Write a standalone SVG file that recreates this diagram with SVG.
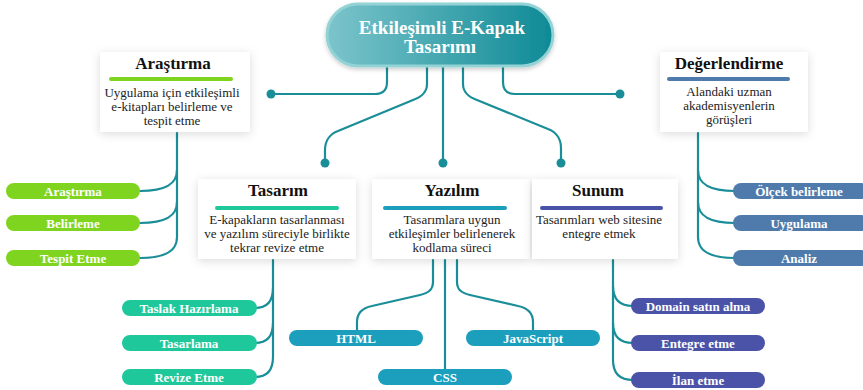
<svg xmlns="http://www.w3.org/2000/svg" width="863" height="390" viewBox="0 0 863 390">
<defs>
<linearGradient id="cg" x1="0" y1="0" x2="1" y2="0">
<stop offset="0" stop-color="#7cc4cb"/>
<stop offset="1" stop-color="#0e8a96"/>
</linearGradient>
<filter id="sh" x="-20%" y="-30%" width="140%" height="160%">
<feDropShadow dx="0" dy="2" stdDeviation="5" flood-color="#000" flood-opacity="0.14"/>
</filter>
<filter id="sh2" x="-10%" y="-20%" width="120%" height="150%">
<feDropShadow dx="0" dy="2" stdDeviation="2" flood-color="#000" flood-opacity="0.2"/>
</filter>
</defs>
<style>
.card{fill:#ffffff;filter:url(#sh)}
.title{font-family:"Liberation Serif","Times New Roman",serif;font-weight:bold;font-size:17px;fill:#111;text-anchor:middle}
.body{font-family:"Liberation Serif","Times New Roman",serif;font-size:13px;fill:#222;text-anchor:middle}
.pt{font-family:"Liberation Serif","Times New Roman",serif;font-weight:bold;font-size:13px;fill:#ffffff;text-anchor:middle}
.con{fill:none;stroke:#1a8e98;stroke-width:2.2;stroke-linecap:round}
.dot{fill:#1a8e98}
.g{fill:#7fd41f}
.tg{fill:#1fc89b}
.cy{fill:#1b9fbd}
.in{fill:#4a53a7}
.sb{fill:#4f7bac}
</style>

<g id="connectors">
<path class="con" d="M387,66 V82 Q387,94 375,94 H271"/>
<path class="con" d="M427,66 V84 C427,93 421,97 413,100 L338,131 C330,134 325,141 325,150 V163"/>
<path class="con" d="M443,66 V163"/>
<path class="con" d="M463,66 V84 C463,93 469,97 477,100 L548,129 C556,132 561,139 561,148 V163"/>
<path class="con" d="M503,66 V82 Q503,94 515,94 H620"/>
<circle class="dot" cx="271" cy="94" r="4.5"/>
<circle class="dot" cx="325" cy="163" r="4.5"/>
<circle class="dot" cx="443" cy="163" r="4.5"/>
<circle class="dot" cx="561" cy="163" r="4.5"/>
<circle class="dot" cx="620" cy="94" r="4.5"/>

<path class="con" d="M177,133 V237 C177,251 166,258 140,258"/>
<path class="con" d="M177,170 C177,184 166,191 140,191"/>
<path class="con" d="M177,202 C177,216 166,223 140,223"/>

<path class="con" d="M698,133 V237 C698,251 709,258 735,258"/>
<path class="con" d="M698,170 C698,184 709,191 735,191"/>
<path class="con" d="M698,202 C698,216 709,223 735,223"/>

<path class="con" d="M273,260 V357 C273,371 266,377 255,377"/>
<path class="con" d="M273,288 C273,302 266,308 255,308"/>
<path class="con" d="M273,323 C273,337 266,343 255,343"/>

<path class="con" d="M613,260 V360 C613,374 620,380 633,380"/>
<path class="con" d="M613,286 C613,300 620,306 633,306"/>
<path class="con" d="M613,323 C613,337 620,343 633,343"/>

<path class="con" d="M433,260 V282 C433,290 428,293 420,295 L372,306 C362,308 357,314 357,322 V330"/>
<path class="con" d="M445,260 V369"/>
<path class="con" d="M457,260 V282 C457,290 462,293 470,295 L518,306 C528,308 533,314 533,322 V330"/>
</g>

<g id="center">
<rect x="327" y="4" width="226" height="62" rx="31" fill="url(#cg)" stroke="#93d3d6" stroke-width="3" filter="url(#sh2)"/>
<text x="442" y="34" font-family="Liberation Serif, Times New Roman, serif" font-weight="bold" font-size="19" fill="#fff" text-anchor="middle">Etkileşimli E-Kapak</text>
<text x="440" y="53" font-family="Liberation Serif, Times New Roman, serif" font-weight="bold" font-size="19" fill="#fff" text-anchor="middle">Tasarımı</text>
</g>

<g id="arastirma">
<rect class="card" x="100" y="52" width="150" height="80"/>
<text class="title" x="173" y="69">Araştırma</text>
<rect class="g" x="109" y="77" width="124" height="4" rx="2"/>
<text class="body" x="172" y="97">Uygulama için etkileşimli</text>
<text class="body" x="172" y="111">e-kitapları belirleme ve</text>
<text class="body" x="172" y="125">tespit etme</text>
</g>

<g id="degerlendirme">
<rect class="card" x="660" y="52" width="148" height="80"/>
<text class="title" x="729" y="69">Değerlendirme</text>
<rect class="sb" x="667" y="77" width="123" height="4" rx="2"/>
<text class="body" x="729" y="96">Alandaki uzman</text>
<text class="body" x="729" y="110">akademisyenlerin</text>
<text class="body" x="729" y="124">görüşleri</text>
</g>

<g id="tasarim">
<rect class="card" x="198" y="179" width="158" height="80"/>
<text class="title" x="278" y="196">Tasarım</text>
<rect class="tg" x="215" y="206" width="124" height="4" rx="2"/>
<text class="body" x="277" y="224">E-kapakların tasarlanması</text>
<text class="body" x="277" y="238">ve yazılım süreciyle birlikte</text>
<text class="body" x="277" y="252">tekrar revize etme</text>
</g>

<g id="yazilim">
<rect class="card" x="372" y="179" width="158" height="80"/>
<text class="title" x="452" y="196">Yazılım</text>
<rect class="cy" x="383" y="206" width="124" height="4" rx="2"/>
<text class="body" x="452" y="224">Tasarımlara uygun</text>
<text class="body" x="452" y="238">etkileşimler belirlenerek</text>
<text class="body" x="452" y="252">kodlama süreci</text>
</g>

<g id="sunum">
<rect class="card" x="532" y="179" width="146" height="80"/>
<text class="title" x="598" y="196">Sunum</text>
<rect class="in" x="540" y="206" width="123" height="4" rx="2"/>
<text class="body" x="599" y="224">Tasarımları web sitesine</text>
<text class="body" x="599" y="238">entegre etmek</text>
</g>

<g id="p-arastirma">
<rect class="g" x="6" y="183" width="134" height="16" rx="8"/>
<text class="pt" x="73" y="195.5">Araştırma</text>
</g>
<g id="p-belirleme">
<rect class="g" x="6" y="215" width="134" height="16" rx="8"/>
<text class="pt" x="73" y="227.5">Belirleme</text>
</g>
<g id="p-tespit">
<rect class="g" x="6" y="250" width="134" height="16" rx="8"/>
<text class="pt" x="73" y="262.5">Tespit Etme</text>
</g>

<g id="p-olcek">
<rect class="sb" x="733" y="183" width="136" height="16" rx="8"/>
<text class="pt" x="799" y="195.5">Ölçek belirleme</text>
</g>
<g id="p-uygulama">
<rect class="sb" x="733" y="215" width="136" height="16" rx="8"/>
<text class="pt" x="799" y="227.5">Uygulama</text>
</g>
<g id="p-analiz">
<rect class="sb" x="733" y="250" width="136" height="16" rx="8"/>
<text class="pt" x="799" y="262.5">Analiz</text>
</g>

<g id="p-taslak">
<rect class="tg" x="122" y="300" width="135" height="16" rx="8"/>
<text class="pt" x="189" y="312.5">Taslak Hazırlama</text>
</g>
<g id="p-tasarlama">
<rect class="tg" x="122" y="335" width="135" height="16" rx="8"/>
<text class="pt" x="189" y="347.5">Tasarlama</text>
</g>
<g id="p-revize">
<rect class="tg" x="122" y="369" width="135" height="16" rx="8"/>
<text class="pt" x="189" y="381.5">Revize Etme</text>
</g>

<g id="p-html">
<rect class="cy" x="289" y="330" width="134" height="16" rx="8"/>
<text class="pt" x="356" y="342.5">HTML</text>
</g>
<g id="p-css">
<rect class="cy" x="378" y="369" width="134" height="16" rx="8"/>
<text class="pt" x="445" y="381.5">CSS</text>
</g>
<g id="p-js">
<rect class="cy" x="466" y="330" width="134" height="16" rx="8"/>
<text class="pt" x="533" y="342.5">JavaScript</text>
</g>

<g id="p-domain">
<rect class="in" x="631" y="298" width="134" height="16" rx="8"/>
<text class="pt" x="698" y="310.5">Domain satın alma</text>
</g>
<g id="p-entegre">
<rect class="in" x="631" y="335" width="134" height="16" rx="8"/>
<text class="pt" x="698" y="347.5">Entegre etme</text>
</g>
<g id="p-ilan">
<rect class="in" x="631" y="372" width="134" height="16" rx="8"/>
<text class="pt" x="698" y="384.5">İlan etme</text>
</g>
</svg>
